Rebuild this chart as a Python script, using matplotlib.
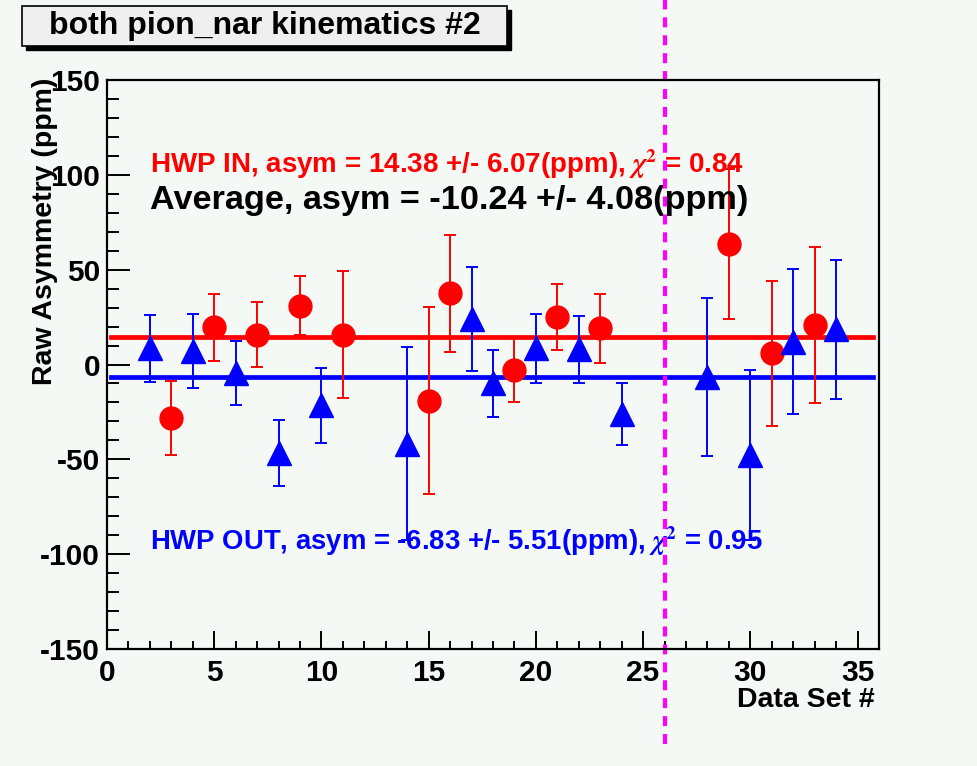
import matplotlib
matplotlib.use('Agg')
import matplotlib.pyplot as plt
from matplotlib.patches import Rectangle
from matplotlib.ticker import MultipleLocator

# HWP IN (red circles)
in_set = [3, 5, 7, 9, 11, 15, 16, 19, 21, 23, 29, 31, 33]
in_asym = [-28.0, 19.6, 15.8, 31.0, 15.8, -19.0, 37.5, -3.0, 25.0, 19.0, 63.5, 6.0, 20.7]
in_err = [19.5, 17.7, 16.9, 15.5, 33.6, 49.3, 30.8, 17.0, 17.2, 18.2, 39.4, 38.2, 41.2]

# HWP OUT (blue triangles)
out_set = [2, 4, 6, 8, 10, 14, 17, 18, 20, 22, 24, 28, 30, 32, 34]
out_asym = [8.5, 7.0, -4.5, -46.5, -21.5, -41.7, 24.0, -10.0, 8.5, 8.0, -26.2, -6.6, -47.7, 12.0, 18.5]
out_err = [17.5, 19.4, 17.1, 17.5, 19.9, 51.0, 27.5, 17.8, 18.3, 17.5, 16.5, 41.8, 45.0, 38.2, 36.5]

fit_in = 14.38
fit_out = -6.83
split_set = 26

bg = '#f5f9f6'
plt.rcParams['font.family'] = ['Liberation Sans', 'DejaVu Sans']
plt.rcParams['font.weight'] = 'bold'
plt.rcParams['axes.unicode_minus'] = False
plt.rcParams['mathtext.fontset'] = 'stix'

fig = plt.figure(figsize=(9.78, 7.66), dpi=100, facecolor=bg)
ax = fig.add_axes([107/978, 1 - 649/766, 772/978, 569/766], facecolor=bg)

ax.plot([0.2, 35.7], [fit_in, fit_in], color='#ff0000', lw=3.4, zorder=2)
ax.plot([0.2, 35.7], [fit_out, fit_out], color='#0000ff', lw=3.4, zorder=2)

ax.errorbar(in_set, in_asym, yerr=in_err, fmt='o', color='#ff0000', ms=16.5,
            elinewidth=1.4, capsize=4.5, capthick=1.4, zorder=3)
ax.errorbar(out_set, out_asym, yerr=out_err, fmt='^', color='#0000ff', ms=17,
            elinewidth=1.4, capsize=4.5, capthick=1.4, zorder=3)

# run split marker, drawn past the frame like the original TLine
ax.plot([split_set, split_set], [-200, 200], color='#ff00ff', lw=3,
        dashes=(2.4, 1.9), clip_on=False, zorder=4)

ax.text(2, 101, r'HWP IN, asym = 14.38 +/- 6.07(ppm), $\chi^{2}$ = 0.84',
        color='#ff0000', fontsize=20, fontweight='bold')
ax.text(2, 82, 'Average, asym = -10.24 +/- 4.08(ppm)',
        color='black', fontsize=24.7, fontweight='bold')
ax.text(2, -98, r'HWP OUT, asym = -6.83 +/- 5.51(ppm), $\chi^{2}$ = 0.95',
        color='#0000ff', fontsize=19.8, fontweight='bold')

ax.set_xlim(0, 36)
ax.set_ylim(-150, 150)
ax.xaxis.set_major_locator(MultipleLocator(5))
ax.xaxis.set_minor_locator(MultipleLocator(1))
ax.yaxis.set_major_locator(MultipleLocator(50))
ax.yaxis.set_minor_locator(MultipleLocator(10))
ax.tick_params(axis='x', which='major', direction='in', length=12.7, width=1.4, labelsize=21.5, pad=7)
ax.tick_params(axis='x', which='minor', direction='in', length=5.5, width=1.4)
ax.tick_params(axis='y', which='major', direction='in', length=16.5, width=1.4, labelsize=21.5, pad=5)
ax.tick_params(axis='y', which='minor', direction='in', length=8.6, width=1.4)
for lab in ax.get_xticklabels() + ax.get_yticklabels():
    lab.set_fontweight('bold')
for s in ax.spines.values():
    s.set_linewidth(1.6)
    s.set_zorder(5)

# axis title overlaps the tick labels in the original too
ax.set_ylabel('Raw Asymmetry (ppm)', fontsize=20.5, fontweight='bold', loc='top')
ax.yaxis.set_label_coords(-0.064, 1.005)
ax.set_xlabel('Data Set #', fontsize=20.5, fontweight='bold', loc='right')
ax.xaxis.set_label_coords(0.995, -0.066)

# title box with shadow
fig.patches.append(Rectangle((26/978, 1 - 50/766), 485/978, 40/766, transform=fig.transFigure,
                             facecolor='black', edgecolor='black', zorder=1))
fig.patches.append(Rectangle((22/978, 1 - 46/766), 485/978, 40/766, transform=fig.transFigure,
                             facecolor='#efefef', edgecolor='black', lw=1.2, zorder=2))
fig.text(265/978, 1 - 26/766, 'both pion_nar kinematics #2', fontsize=23, fontweight='bold',
         ha='center', va='center', zorder=3)

fig.savefig('out.png', dpi=100, facecolor=bg)
